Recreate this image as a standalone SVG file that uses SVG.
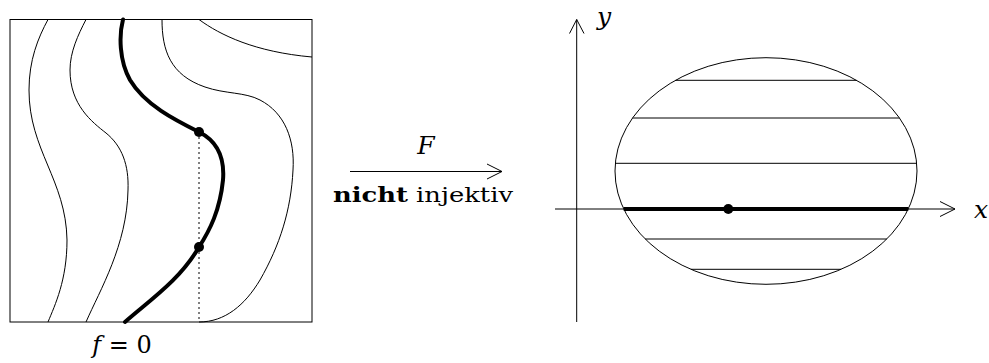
<svg xmlns="http://www.w3.org/2000/svg" width="989" height="363" viewBox="0 0 989 363">
<style>
.thin{fill:none;stroke:#000;stroke-width:1}
.thick{fill:none;stroke:#000;stroke-width:4;stroke-linecap:round}
.dot{fill:#000}
</style>
<g id="left-square">
<rect class="thin" x="10" y="19.5" width="302" height="302.5"/>
<path class="thin" d="M48,19.5 C38,38 29,60 29,90 C29,150 66,180 67,240 C67,280 55,305 48,322"/>
<path class="thin" d="M86,19.5 C78,35 70,52 70,70 C70,105 92,122 106,133 C122,146 129,165 128,190 C127,245 100,290 86,322"/>
<path class="thin" d="M162,19.5 C162,50 170,75 205,87 C225,94 245,92 260,100 C285,113 295,140 293,170 C291,210 280,245 260,280 C245,305 225,322 199,322"/>
<path class="thin" d="M199,19.5 C220,35 255,52 312,57"/>
<path class="thin" d="M199,132 V322" stroke-dasharray="2,3"/>
<path class="thick" d="M123,19.5 C119,35 119,60 130,80 C145,105 175,120 199,132 C215,140 225,155 223,180 C220,210 210,230 199,247 C180,280 150,300 125,322"/>
<circle class="dot" cx="199" cy="132" r="5"/>
<circle class="dot" cx="199" cy="247" r="5"/>
<text x="122" y="353" font-family="DejaVu Serif, serif" font-size="24" text-anchor="middle"><tspan font-style="italic">f</tspan> = 0</text>
</g>
<g id="map-arrow">
<path class="thin" d="M350,171.5 H502 M487,164 L502,171.5 L487,179"/>
<text x="426" y="154" font-family="DejaVu Serif, serif" font-size="25" font-style="italic" text-anchor="middle">F</text>
<text x="423" y="202" font-family="DejaVu Serif, serif" font-size="20" text-anchor="middle" textLength="180" lengthAdjust="spacingAndGlyphs"><tspan font-weight="bold">nicht</tspan> injektiv</text>
</g>
<g id="right-plot">
<path class="thin" d="M576.7,322 V19.5 M569.5,33.5 L576.7,19.5 L584,33.5"/>
<path class="thin" d="M555,209 H955 M940,201.5 L955,209 L940,216.5"/>
<ellipse class="thin" cx="766" cy="171" rx="151" ry="113.3"/>
<path class="thin" d="M675.5,80.3 H856.5 M632.5,118 H899.5 M615.3,163.3 H916.7 M645.2,239 H886.8 M690.9,269.3 H841.1"/>
<path d="M623.7,209 H908.3" stroke="#000" stroke-width="4"/>
<circle class="dot" cx="728.3" cy="209" r="5"/>
<text x="597" y="25" font-family="DejaVu Serif, serif" font-size="25" font-style="italic">y</text>
<text x="974" y="218" font-family="DejaVu Serif, serif" font-size="25" font-style="italic">x</text>
</g>
</svg>
